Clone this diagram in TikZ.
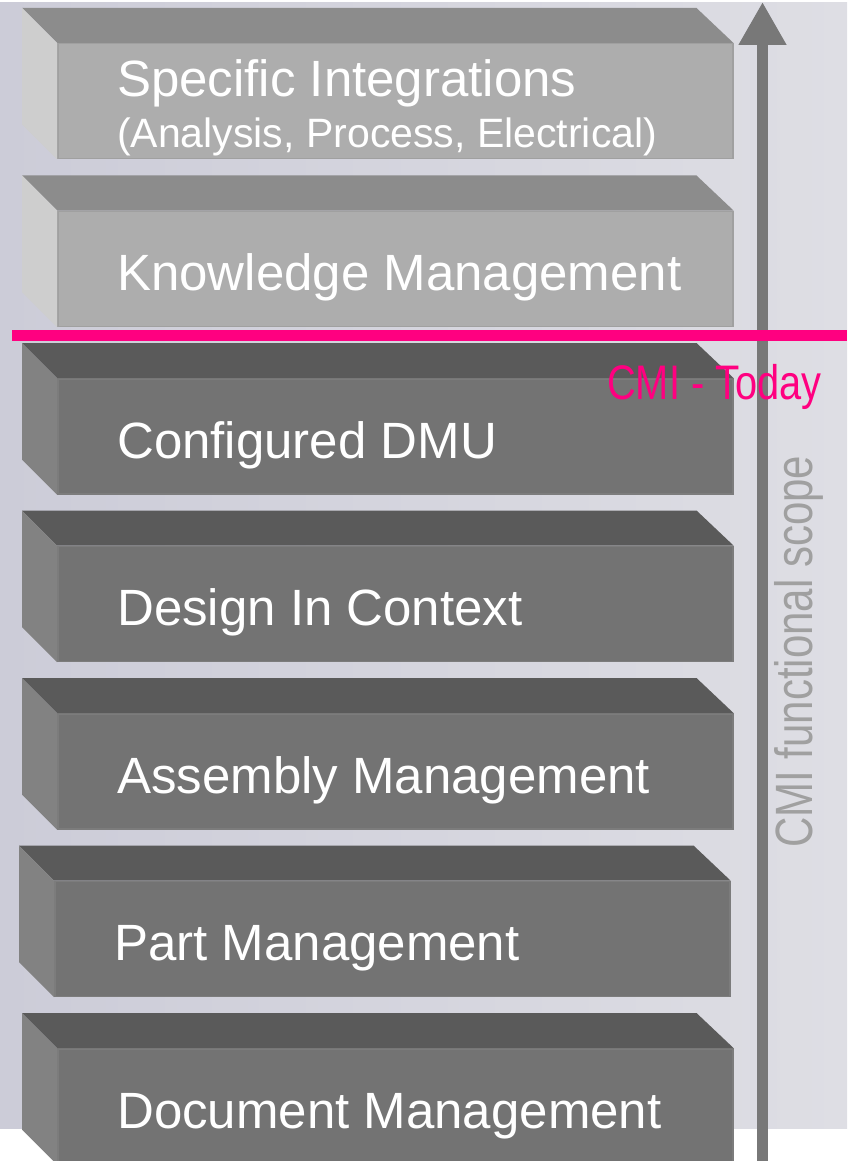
\documentclass[tikz,border=0pt]{standalone}
\usepackage{fontspec}
\setmainfont{Liberation Sans}
\newfontfamily\condfont{Liberation Sans}[FakeStretch=0.8]
\newfontfamily\todayfont{Liberation Sans}[FakeStretch=0.82]
\usetikzlibrary{positioning,arrows.meta}

\definecolor{bgright}{RGB}{222,222,228}
\definecolor{bgleft}{RGB}{204,204,216}
\definecolor{lightfront}{RGB}{173,173,173}
\definecolor{lightedge}{RGB}{160,160,160}
\definecolor{lighttop}{RGB}{140,140,140}
\definecolor{lightside}{RGB}{206,206,206}
\definecolor{darkfront}{RGB}{115,115,115}
\definecolor{darkedge}{RGB}{124,124,124}
\definecolor{darktop}{RGB}{90,90,90}
\definecolor{darkside}{RGB}{130,130,130}
\definecolor{todaypink}{RGB}{255,0,128}
\definecolor{scopegrey}{RGB}{120,120,120}
\definecolor{scopelabel}{RGB}{160,160,160}

\begin{document}
\begin{tikzpicture}[x=1pt, y=-1pt,
	lightslab/.style={rectangle, fill=lightfront, draw=lightedge, line width=1.5pt, minimum width=675pt, minimum height=115pt, inner sep=0pt},
	darkslab/.style={lightslab, fill=darkfront, draw=darkedge},
	slabtext/.style={text=white, font=\fontsize{51}{53}\selectfont, anchor=base west, inner sep=0pt, align=left},
	todayline/.style={draw=todaypink, line width=11pt},
	scopearrow/.style={draw=scopegrey, line width=11pt, -{Triangle[width=45pt, length=43pt]}}
	]

	\useasboundingbox (0,0) rectangle (847,1161);
	\fill[left color=bgleft, right color=bgright] (0,3) rectangle (847,1128);

	% the vertical scope arrow
	\coordinate (scopebot) at (762.5,1170);
	\coordinate (scopetop) at (762.5,2);
	\draw [scopearrow] (scopebot) -- (scopetop);

	% the stack of layers
	\node (specint) [lightslab, anchor=north west] at (57,43) {};
		\node (knowmgmt) [lightslab, below=51pt of specint] {};
		\node (confdmu) [darkslab, below=51pt of knowmgmt] {};
		\node (dincontext) [darkslab, below=51pt of confdmu] {};
		\node (assymgmt) [darkslab, below=51pt of dincontext] {};
		\node (partmgmt) [darkslab, below=51pt of assymgmt, xshift=-3pt] {};
		\node (docmgmt) [darkslab, below=51pt of partmgmt, xshift=3pt] {};

	\foreach \slab/\topc/\sidec in {specint/lighttop/lightside, knowmgmt/lighttop/lightside,
		confdmu/darktop/darkside, dincontext/darktop/darkside, assymgmt/darktop/darkside,
		partmgmt/darktop/darkside, docmgmt/darktop/darkside}
	{
		\fill [\topc] (\slab.north west) -- ++(-35,-35) -- ([shift={(-37pt,35pt)}]\slab.north east) -- (\slab.north east) -- cycle;
		\fill [\sidec] (\slab.north west) -- ++(-35,-35) -- ([shift={(-35pt,35pt)}]\slab.south west) -- (\slab.south west) -- cycle;
	}

	\node (specinttext) [slabtext] at ([shift={(60pt,-105pt)}]specint.north west) {Specific Integrations\\[-2pt]{\fontsize{41}{53}\selectfont (Analysis, Process, Electrical)}};
	\node (knowmgmttext) [slabtext] at ([shift={(60pt,-80pt)}]knowmgmt.north west) {Knowledge Management};
	\node (confdmutext) [slabtext] at ([shift={(60pt,-80pt)}]confdmu.north west) {Configured DMU};
	\node (dincontexttext) [slabtext] at ([shift={(60pt,-80pt)}]dincontext.north west) {Design In Context};
	\node (assymgmttext) [slabtext] at ([shift={(60pt,-80pt)}]assymgmt.north west) {Assembly Management};
	\node (partmgmttext) [slabtext] at ([shift={(60pt,-80pt)}]partmgmt.north west) {Part Management};
	\node (docmgmttext) [slabtext] at ([shift={(60pt,-80pt)}]docmgmt.north west) {Document Management};

	% today marker
	\coordinate (todayl) at (12,335.5);
	\coordinate (todayr) at (847,335.5);
	\draw [todayline] (todayl) -- (todayr);
	\node (todaytext) [anchor=base west, inner sep=0pt, text=todaypink, font=\todayfont\fontsize{48.5}{50}\selectfont] at (607,399) {CMI - Today};

	\node (scopetext) [rotate=90, anchor=base west, inner sep=0pt, text=scopelabel, font=\condfont\fontsize{52.5}{54}\selectfont] at (812,848) {CMI functional scope};

\end{tikzpicture}
\end{document}
